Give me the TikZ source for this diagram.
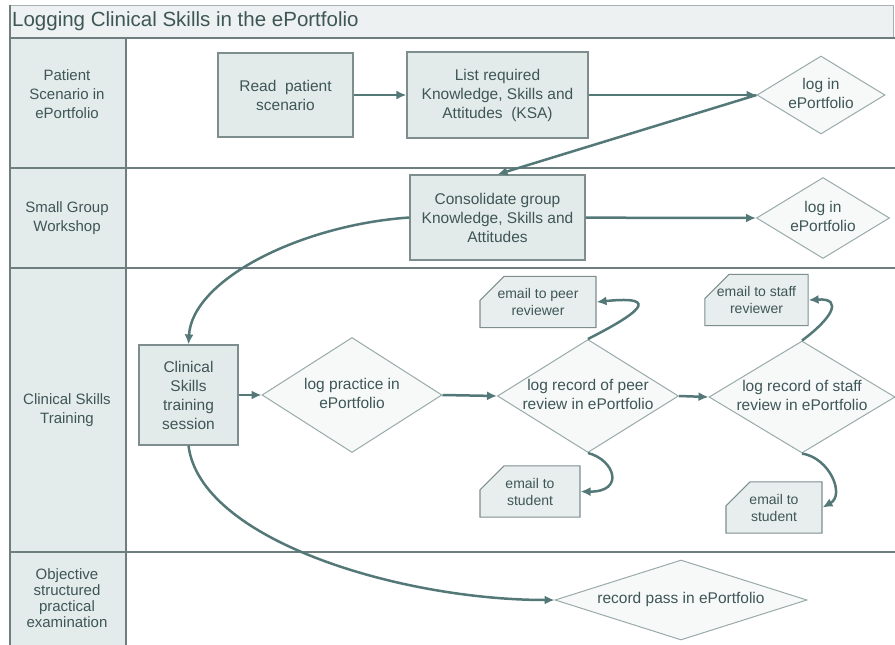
\documentclass[tikz,border=0pt]{standalone}
\usepackage{fontspec}
\setmainfont{Liberation Sans}
\usetikzlibrary{shapes.geometric,shapes.misc,arrows.meta}
\definecolor{lanefill}{HTML}{E4EBEB}
\definecolor{boxfill}{HTML}{E3EAEA}
\definecolor{cardfill}{HTML}{E8EEEE}
\definecolor{laneline}{HTML}{6E7E7E}
\definecolor{boxline}{HTML}{7E8E8E}
\definecolor{arrowcol}{HTML}{547878}
\definecolor{txt}{HTML}{3E5656}
\definecolor{dmdline}{HTML}{9AAAAA}
\definecolor{dmdfill}{HTML}{F7F9F9}
\definecolor{titlefill}{HTML}{EDF1F1}
\newcommand{\dtext}[1]{\makebox[0pt][c]{\begin{tabular}{@{}c@{}}#1\end{tabular}}}
\begin{document}
\begin{tikzpicture}[x=1pt,y=-1pt,
  font=\fontsize{15.5}{19}\selectfont, text=txt,
  procbox/.style={rectangle, draw=boxline, fill=boxfill, line width=1.2pt, align=center, inner sep=0pt},
  decis/.style={diamond, draw=dmdline, fill=dmdfill, line width=1pt, inner sep=0pt},
  card/.style={chamfered rectangle, chamfered rectangle corners=north west,
    chamfered rectangle xsep=12pt, chamfered rectangle ysep=12pt,
    draw=boxline, fill=cardfill, line width=1.1pt, align=center, inner sep=0pt,
    font=\fontsize{14}{17}\selectfont},
  flow/.style={draw=arrowcol, line width=2.5pt, -{Latex[length=10pt,width=9pt]}},
  lanelabel/.style={align=center, text=txt, font=\fontsize{15}{19}\selectfont},
  lane/.style={draw=laneline, line width=1.8pt}]
\useasboundingbox (0,0) rectangle (895,645);
% background structure
\fill[white] (0,0) rectangle (895,645);
\fill[titlefill] (10,5) rectangle (893,38);
\draw[laneline!60, line width=1pt] (10,5) -- (893,5) -- (893,38);
\fill[lanefill] (10,38) rectangle (126,645);
\draw[lane] (10,38) -- (895,38);
\draw[lane] (10,168) -- (895,168);
\draw[lane] (10,268) -- (895,268);
\draw[lane] (10,552) -- (895,552);
\draw[lane] (10,5) -- (10,645);
\draw[lane] (126,38) -- (126,645);
% title
\node[anchor=west, inner sep=0pt, font=\fontsize{20.5}{24}\selectfont] (title) at (12,21) {Logging Clinical Skills in the ePortfolio};
% lane labels
\node[lanelabel] (l1) at (67,94) {Patient\\Scenario in\\ePortfolio};
\node[lanelabel] (l2) at (67,218) {Small Group\\Workshop};
\node[lanelabel] (l3) at (67,410) {Clinical Skills\\Training};
\node[lanelabel, font=\fontsize{15}{16}\selectfont] (l4) at (67,598) {Objective\\structured\\practical\\examination};
% lane 1
\node[procbox, minimum width=135pt, minimum height=84pt] (read) at (285.5,95) {Read\ \ patient\\scenario};
\node[procbox, minimum width=181pt, minimum height=86pt] (list) at (497.5,95) {List required\\Knowledge, Skills and\\Attitudes\ \ (KSA)};
\node[decis, minimum width=128pt, minimum height=78pt] (d1) at (821,95) {\dtext{log in\\ePortfolio}};
% lane 2
\node[procbox, minimum width=175pt, minimum height=85pt] (cons) at (497.5,217.5) {Consolidate group\\Knowledge, Skills and\\Attitudes};
\node[decis, minimum width=133pt, minimum height=81pt] (d2) at (823,218) {\dtext{log in\\ePortfolio}};
% lane 3
\node[procbox, minimum width=99pt, minimum height=100pt] (clin) at (188.5,395) {Clinical\\Skills\\training\\session};
\node[decis, minimum width=180pt, minimum height=115pt] (prac) at (352,395) {\dtext{log practice in\\ePortfolio}};
\node[decis, minimum width=181pt, minimum height=113pt] (peer) at (588,396) {\dtext{log record of peer\\review in ePortfolio}};
\node[decis, minimum width=186pt, minimum height=112pt] (staff) at (802,397) {\dtext{log record of staff\\review in ePortfolio}};
\node[card, minimum width=116pt, minimum height=48pt] (peerrev) at (538,302) {email to peer\\reviewer};
\node[card, minimum width=95pt, minimum height=44pt] (staffrev) at (756.5,300) {email to staff\\reviewer};
\node[card, minimum width=100pt, minimum height=41pt] (peerstu) at (530,491.5) {email to\\student};
\node[card, minimum width=96pt, minimum height=41pt] (staffstu) at (774,507.5) {email to\\student};
% lane 4
\node[decis, minimum width=252pt, minimum height=80pt] (pass) at (681,600) {\dtext{record pass in ePortfolio}};
% connectors
\draw[flow] (read) -- (list);
\draw[flow] (list) -- (d1.west);
\draw[flow] (d1.west) -- (cons.north);
\draw[flow] (cons) -- (d2.west);
\draw[flow] (cons.west) .. controls (300,225) and (192,280) .. (clin.north);
\draw[flow] (clin) -- (prac.west);
\draw[flow] (prac.east) -- (peer.west);
\draw[flow] (peer.east) -- (staff.west);
\draw[flow] (peer.north) .. controls (635,315) and (665,295) .. (peerrev.east);
\draw[flow] (staff.north) .. controls (830,320) and (845,298) .. (staffrev.east);
\draw[flow] (peer.south) .. controls (615,460) and (625,492) .. (peerstu.east);
\draw[flow] (staff.south) .. controls (830,458) and (845,495) .. (staffstu.east);
\draw[flow] (clin.south) .. controls (200,540) and (400,600) .. (pass.west);
\end{tikzpicture}
\end{document}
